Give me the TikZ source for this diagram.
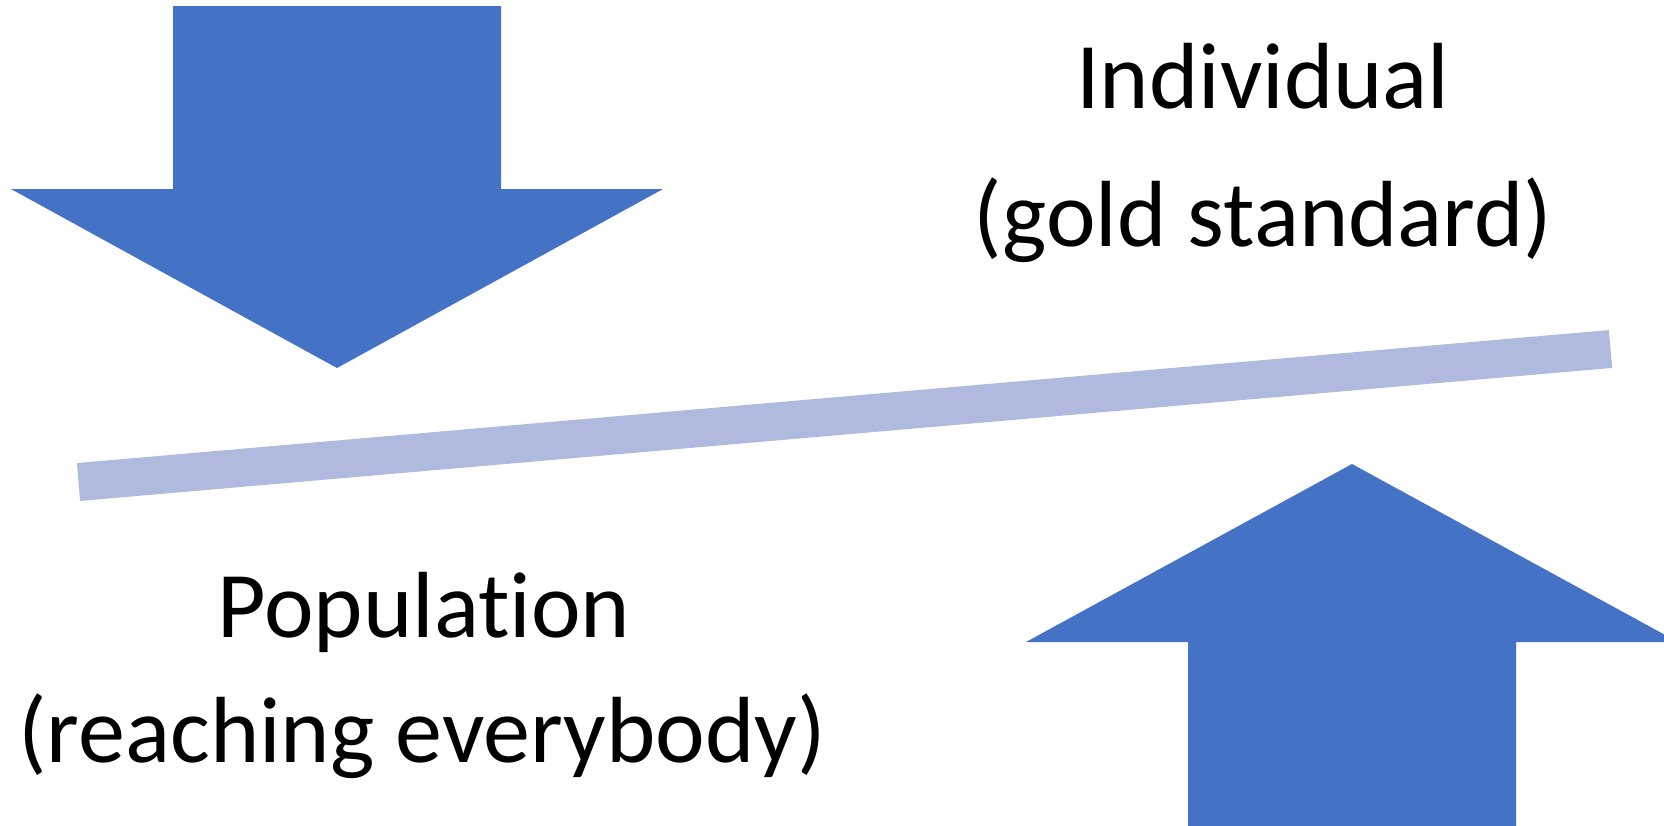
\documentclass[tikz,border=0pt]{standalone}
\usepackage{fontspec}
\setmainfont{Carlito}[Ligatures=NoCommon]
\definecolor{arrowblue}{HTML}{4472C4}
\definecolor{barblue}{HTML}{AFBADE}
\tikzset{
  bigarrow/.style={fill=arrowblue, draw=none},
  beam/.style={draw=barblue, line width=38pt, line cap=butt},
  label/.style={anchor=base, inner sep=0pt, font=\fontsize{94}{138}\selectfont}
}
\begin{document}
\begin{tikzpicture}[x=1pt,y=-1pt]
  \useasboundingbox (0,0) rectangle (1664,825);
  % downward arrow, top left
  \fill[bigarrow] (173,6) -- (501,6) -- (501,189) -- (663,189) -- (337,368)
    -- (11,189) -- (173,189) -- cycle;
  % tilted beam
  \coordinate (beamL) at (78.5,482);
  \coordinate (beamR) at (1610.5,349);
  \draw[beam] (beamL) -- (beamR);
  % upward arrow, bottom right
  \fill[bigarrow] (1188,830) -- (1188,642) -- (1026,642) -- (1352,464)
    -- (1678,642) -- (1516,642) -- (1516,830) -- cycle;
  % labels
  \node[label] (ind) at (1263,108) {Individual};
  \node[label] (indsub) at (1263,246) {(gold standard)};
  \node[label] (pop) at (424,637) {Population};
  \node[label] (popsub) at (422,762) {(reaching everybody)};
\end{tikzpicture}
\end{document}
